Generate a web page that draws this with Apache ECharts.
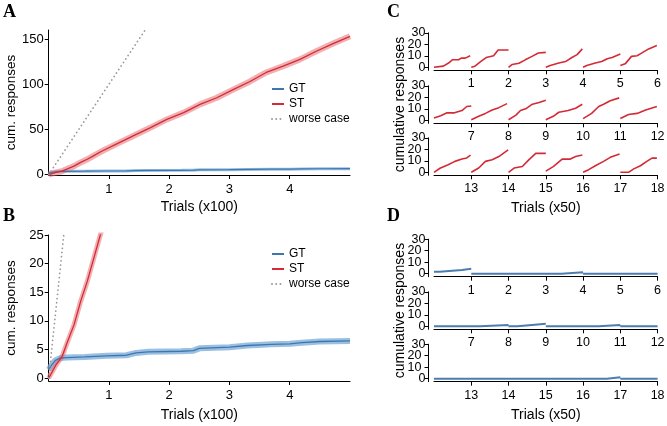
<!DOCTYPE html>
<html><head><meta charset="utf-8">
<script src="https://cdn.jsdelivr.net/npm/echarts@6/dist/echarts.min.js"></script>
<style>html,body{margin:0;padding:0;background:#fff}#c{width:667px;height:426px}</style>
</head><body><div id="c"></div>
<script>
// ---- Panel A / B data (trials in hundreds) ----
const stX = [0, 0.12, 0.22, 0.31, 0.42, 0.53, 0.64, 0.75, 0.87, 1.13, 1.41, 1.69, 1.96, 2.24, 2.51, 2.79, 3.06, 3.34, 3.61, 3.89, 4.17, 4.44, 4.72, 5.0];
const stMean = [0, 2.3, 3.7, 6.3, 9.3, 13.4, 16.9, 21, 25.5, 34, 43, 52, 61, 68.6, 77.7, 85, 94, 103, 113, 120, 127.5, 136.5, 145, 153];
const gtX = [0, 0.05, 0.11, 0.19, 0.3, 0.6, 0.96, 1.29, 1.45, 1.65, 2.2, 2.4, 2.5, 3.0, 3.3, 3.7, 4.0, 4.2, 4.5, 5.0];
const gtMean = [1.5, 2.3, 3.1, 3.5, 3.6, 3.7, 3.9, 4.0, 4.4, 4.6, 4.7, 4.8, 5.2, 5.4, 5.7, 5.9, 6.0, 6.2, 6.4, 6.5];
const worstX = [0, 1.6];
const worstY = [0, 160];
const legendNames = ['GT', 'ST', 'worse case'];
const aTicksY = [0, 50, 100, 150];
const bTicksY = [0, 5, 10, 15, 20, 25];
const abTicksX = [1, 2, 3, 4];
// ---- Panel C / D data: per block of 50 trials, [fraction of block, cumulative responses] ----
const blockTicksY = [0, 10, 20, 30];
const cBlocks = [
  [[0,0],[0.25,1],[0.3,2.3],[0.39,3.7],[0.5,6.6],[0.66,6.6],[0.73,8],[0.84,8],[0.97,10]],
  [[0,0],[0.1,1],[0.25,5],[0.4,8.5],[0.6,10],[0.72,15],[1,15]],
  [[0,0],[0.1,2.5],[0.28,3.5],[0.45,6.5],[0.63,9.5],[0.8,12.5],[1,13]],
  [[0,0],[0.12,1.5],[0.35,3.7],[0.53,5],[0.7,8.5],[0.84,11],[0.98,16]],
  [[0,0],[0.1,1.5],[0.33,3.7],[0.5,5],[0.65,7.5],[0.78,8.5],[1,11.5]],
  [[0,1.5],[0.13,3],[0.3,9.5],[0.45,10],[0.58,12.5],[0.76,16],[0.98,19]],
  [[0,2],[0.18,4],[0.35,6.5],[0.55,6.5],[0.75,8.5],[0.88,12],[1,12.5]],
  [[0,0.5],[0.2,3.5],[0.38,6],[0.56,9],[0.74,11],[0.96,14.5]],
  [[0,0.5],[0.2,4.5],[0.32,8.5],[0.46,10],[0.64,14],[0.82,15.5],[1,17.5]],
  [[0,0.5],[0.2,3.5],[0.35,7],[0.6,8.5],[0.8,10.5],[0.98,14]],
  [[0,1.5],[0.23,6],[0.42,12],[0.55,14],[0.73,17],[0.97,19.5]],
  [[0,1.5],[0.22,5],[0.45,6],[0.68,9],[0.98,12]],
  [[0,0],[0.16,3.5],[0.38,6.5],[0.56,9.5],[0.75,11.5],[0.88,12.5],[0.98,15]],
  [[0,0],[0.2,3.7],[0.38,9.5],[0.56,11],[0.74,13.7],[0.99,19.5]],
  [[0,0],[0.15,3.7],[0.37,5],[0.55,11],[0.73,16.5],[1,16.5]],
  [[0,1],[0.2,5],[0.44,11.5],[0.66,11.5],[0.8,13.7],[0.98,15]],
  [[0,0],[0.15,2.3],[0.33,5.7],[0.55,9.5],[0.73,13],[0.98,16]],
  [[0,0],[0.22,0],[0.36,3],[0.54,5.7],[0.71,9.5],[0.85,12.3],[0.98,12.3]]
];
const dBlocks = [
  [[0,1.7],[0.15,1.7],[0.17,3.3],[0.75,3.3],[0.8,4.3],[1,4.3]],
  [[0,0],[1,0]],
  [[0,0],[1,0]],
  [[0,0],[0.42,0],[0.43,1.2],[1,1.2]],
  [[0,0],[1,0]],
  [[0,0],[1,0]],
  [[0,0],[1,0]],
  [[0,0],[0.24,0],[0.25,1.2],[1,1.2]],
  [[0,0],[0.23,0],[0.24,1.2],[0.63,1.2],[0.64,2.3],[1,2.3]],
  [[0,0],[1,0]],
  [[0,0],[0.42,0],[0.43,1.2],[1,1.2]],
  [[0,0],[1,0]],
  [[0,0],[1,0]],
  [[0,0],[1,0]],
  [[0,0],[1,0]],
  [[0,0],[1,0]],
  [[0,0],[0.64,0],[0.65,1.2],[1,1.2]],
  [[0,0],[1,0]]
];

const FONT = 'Liberation Sans, Arial, sans-serif';
const RED = '#d42a35', RED_BAND = 'rgba(232,110,115,0.55)';
const BLUE = '#3b78b0', BLUE_BAND = 'rgba(120,170,215,0.75)';
const GREY = '#9a9a9a';

const zip = (xs, ys) => xs.map((x, i) => [x, ys[i]]);
function rowData(blocks, row) {
  const out = [];
  for (let b = row * 6; b < row * 6 + 6; b++) {
    blocks[b].forEach(p => out.push([b + p[0], p[1]]));
    out.push([b + 1, null]);
  }
  return out;
}

const grids = [
  {left: 48.7, top: 30, width: 301.3, height: 145},
  {left: 48.7, top: 235, width: 301.3, height: 146},
  {left: 434, top: 32.8, width: 223.6, height: 37.5},
  {left: 434, top: 85.8, width: 223.6, height: 37.5},
  {left: 434, top: 137.8, width: 223.6, height: 37.5},
  {left: 434, top: 239.2, width: 223.6, height: 37.5},
  {left: 434, top: 291.8, width: 223.6, height: 37.5},
  {left: 434, top: 344.2, width: 223.6, height: 37.5}
].map(g => Object.assign({outerBoundsMode: 'none', containLabel: false}, g));

const axLine = {show: true, onZero: false, lineStyle: {color: '#000', width: 1}};
const axTick = (vals) => ({show: true, length: 4, inside: false, interval: 0, customValues: vals, lineStyle: {color: '#000', width: 1}});
const axLabel = (vals, size, margin) => ({show: true, interval: 0, hideOverlap: false, showMinLabel: true, showMaxLabel: true,
  customValues: vals, color: '#000', fontSize: size, fontFamily: FONT, margin: margin});

const xAxes = [], yAxes = [];
// A
xAxes.push({gridIndex: 0, type: 'value', min: 0, max: 5, axisLine: axLine, axisTick: axTick(abTicksX), axisLabel: axLabel(abTicksX, 13, 8), splitLine: {show: false},
  name: 'Trials (x100)', nameLocation: 'middle', nameGap: 25, nameTextStyle: {fontSize: 14, fontFamily: FONT, color: '#000'}});
yAxes.push({gridIndex: 0, type: 'value', position: 'left', min: -0.5, max: 160, axisLine: axLine, axisTick: axTick(aTicksY), axisLabel: axLabel(aTicksY, 13, 5), splitLine: {show: false},
  name: 'cum. responses', nameLocation: 'middle', nameGap: 30, nameTextStyle: {fontSize: 13.5, fontFamily: FONT, color: '#000'}});
// B
xAxes.push({gridIndex: 1, type: 'value', min: 0, max: 5, axisLine: axLine, axisTick: axTick(abTicksX), axisLabel: axLabel(abTicksX, 13, 8), splitLine: {show: false},
  name: 'Trials (x100)', nameLocation: 'middle', nameGap: 27, nameTextStyle: {fontSize: 14, fontFamily: FONT, color: '#000'}});
yAxes.push({gridIndex: 1, type: 'value', position: 'left', min: -0.5, max: 25, axisLine: axLine, axisTick: axTick(bTicksY), axisLabel: axLabel(bTicksY, 13, 5), splitLine: {show: false},
  name: 'cum. responses', nameLocation: 'middle', nameGap: 30, nameTextStyle: {fontSize: 13.5, fontFamily: FONT, color: '#000'}});
// C & D rows (main y axes get indices 2..7; label-only helper axes appended afterwards)
const labelOnly = [];
for (let p = 0; p < 2; p++) {
  for (let r = 0; r < 3; r++) {
    const gi = 2 + p * 3 + r;
    const xt = [1, 2, 3, 4, 5, 6].map(v => v + r * 6);
    const xa = {gridIndex: gi, type: 'value', min: r * 6, max: r * 6 + 6, axisLine: axLine, axisTick: axTick(xt), axisLabel: axLabel(xt, 12.5, 7), splitLine: {show: false}};
    if (r === 2) Object.assign(xa, {name: 'Trials (x50)', nameLocation: 'middle', nameGap: 26, nameTextStyle: {fontSize: 14, fontFamily: FONT, color: '#000'}});
    xAxes.push(xa);
    const ends = [blockTicksY[0], blockTicksY[blockTicksY.length - 1]];
    const ya = {gridIndex: gi, type: 'value', position: 'left', min: -2.6, max: 30, offset: 5.5, axisLine: axLine, axisTick: axTick(blockTicksY), axisLabel: axLabel(ends, 12.5, 3), splitLine: {show: false}};
    if (r === 1) Object.assign(ya, {name: 'cumulative responses', nameLocation: 'middle', nameGap: 21, nameTextStyle: {fontSize: 14, fontFamily: FONT, color: '#000'}});
    yAxes.push(ya);
    blockTicksY.slice(1, -1).forEach(v => labelOnly.push({gridIndex: gi, type: 'value', position: 'left', min: -2.6, max: 30, offset: 5.5,
      axisLine: {show: false}, axisTick: {show: false}, axisLabel: axLabel([v], 12.5, 7), splitLine: {show: false}}));
  }
}
labelOnly.forEach(a => yAxes.push(a));

const series = [];
function line(name, gi, data, color, width, extra) {
  series.push(Object.assign({name, type: 'line', xAxisIndex: gi, yAxisIndex: gi, data, symbol: 'none', showSymbol: false,
    lineStyle: {color, width}, itemStyle: {color}, silent: true, animation: false, connectNulls: false, clip: true}, extra || {}));
}
const dotted = {lineStyle: {color: GREY, width: 1.8, type: [0.01, 4.2], cap: 'round'}};
// A
line('GT band', 0, zip(gtX, gtMean), BLUE_BAND, 3);
line('ST band', 0, zip(stX, stMean), RED_BAND, 6);
line('GT', 0, zip(gtX, gtMean), BLUE, 1.2);
line('ST', 0, zip(stX, stMean), RED, 1.3);
line('worse case', 0, zip(worstX, worstY), GREY, 1.8, dotted);
// B
line('GT band', 1, zip(gtX, gtMean), BLUE_BAND, 6);
line('ST band', 1, zip(stX, stMean), RED_BAND, 5);
line('GT', 1, zip(gtX, gtMean), BLUE, 1.3);
line('ST', 1, zip(stX, stMean), RED, 1.3);
line('worse case', 1, zip(worstX, worstY), GREY, 1.8, dotted);
// C & D
for (let r = 0; r < 3; r++) {
  line('ST block', 2 + r, rowData(cBlocks, r), RED, 1.6);
  line('GT block', 5 + r, rowData(dBlocks, r), '#4a7db0', 2);
}

const legendCommon = {data: legendNames, orient: 'vertical', itemWidth: 12, itemHeight: 10, itemGap: 3, selectedMode: false,
  itemStyle: {opacity: 0}, textStyle: {fontSize: 12, fontFamily: FONT, color: '#000'}};

const option = {
  animation: false,
  backgroundColor: '#fff',
  grid: grids,
  xAxis: xAxes,
  yAxis: yAxes,
  series,
  legend: [
    Object.assign({left: 266, top: 78}, legendCommon),
    Object.assign({left: 266, top: 243}, legendCommon)
  ],
  graphic: [
    {type: 'text', left: 3, top: 3, style: {text: 'A', font: 'bold 18px "Liberation Serif", serif', fill: '#000'}},
    {type: 'text', left: 3, top: 207, style: {text: 'B', font: 'bold 18px "Liberation Serif", serif', fill: '#000'}},
    {type: 'text', left: 387, top: 3, style: {text: 'C', font: 'bold 18px "Liberation Serif", serif', fill: '#000'}},
    {type: 'text', left: 387, top: 207, style: {text: 'D', font: 'bold 18px "Liberation Serif", serif', fill: '#000'}}
  ]
};
const chart = echarts.init(document.getElementById('c'), null, {renderer: 'canvas'});
chart.setOption(option);
</script>
</body></html>
